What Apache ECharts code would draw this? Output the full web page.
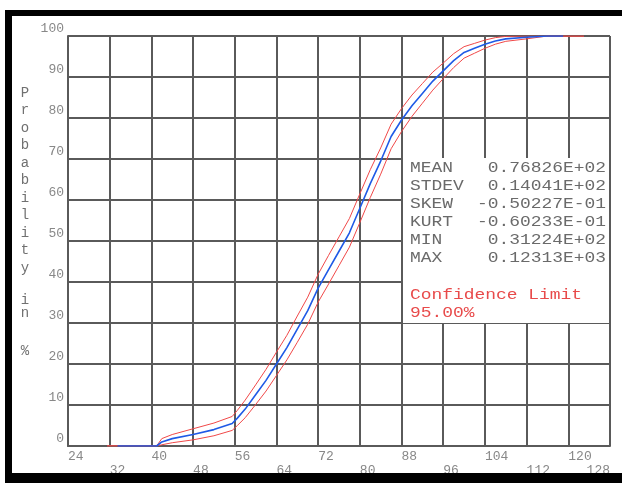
<!DOCTYPE html>
<html>
<head>
<meta charset="utf-8">
<script src="https://cdn.jsdelivr.net/npm/echarts@6/dist/echarts.min.js"></script>
<style>
  html, body { margin: 0; padding: 0; background: #fff; }
  #chart { width: 622px; height: 483px; }
</style>
</head>
<body>
<div id="chart"></div>
<script>
// sample values (x) and cumulative probability in %
const cdfX = [33.5, 41, 42, 44, 48, 52, 55.5, 56.5, 58, 60, 62, 64, 66, 68, 70, 72, 74, 76, 78, 80,
  82, 84, 86, 88, 90, 92, 94, 96, 98, 100, 102, 104, 106, 108, 112, 116, 119];
const cdfY = [0, 0, 1, 1.8, 2.8, 4, 5.5, 6.8, 9, 12.5, 16, 20, 24, 28.5, 33, 38.5, 43, 47.5, 52, 58,
  64, 69.5, 75.5, 79.5, 83, 86, 89, 91.5, 94, 96, 97, 98, 98.8, 99.3, 99.7, 100, 100];

// 95% confidence limits (red)
const limX = [31.5, 41, 42, 44, 48, 52, 55.5, 56.5, 58, 60, 62, 64, 66, 68, 70, 72, 74, 76, 78, 80,
  82, 84, 86, 88, 90, 92, 94, 96, 98, 100, 102, 104, 106, 108, 112, 116, 123];
const upperY = [0, 0, 1.8, 2.8, 4.2, 5.6, 7.2, 8.7, 11.2, 14.9, 18.7, 22.9, 27, 31.7, 36.3, 41.9, 46.5,
  51, 55.5, 61.5, 67.4, 72.7, 78.5, 82.3, 85.6, 88.4, 91.2, 93.4, 95.7, 97.4, 98.2, 99, 99.6, 99.9, 100, 100, 100];
const lowerY = [0, 0, 0.3, 0.8, 1.5, 2.5, 3.8, 5, 6.9, 10.1, 13.4, 17.2, 21, 25.3, 29.7, 35.1, 39.5,
  44, 48.5, 54.5, 60.6, 66.3, 72.5, 76.7, 80.4, 83.6, 86.8, 89.6, 92.3, 94.6, 95.8, 97, 98, 98.7, 99.3, 100, 100];

const statNames = ['MEAN', 'STDEV', 'SKEW', 'KURT', 'MIN', 'MAX'];
const statValues = ['0.76826E+02', '0.14041E+02', '-0.50227E-01', '-0.60233E-01', '0.31224E+02', '0.12313E+03'];
const yTitle = ['P', 'r', 'o', 'b', 'a', 'b', 'i', 'l', 'i', 't', 'y'];

const mono = 'Liberation Mono';
const gridColor = '#5a5a5a';
const charW = 14 * 0.6 * 1.28; // stretched mono glyph width

function pairs(xs, ys) {
  return xs.map((x, i) => [x, ys[i]]);
}

function monoText(str, x, y, color, z) {
  return { type: 'text', x: x, y: y, scaleX: 1.28, z: z,
    style: { text: str, font: '14px "' + mono + '"', fill: color, align: 'left', verticalAlign: 'middle' } };
}

// x labels sit on two staggered rows: even steps up, odd steps down
const isLowRow = v => ((v - 24) / 8) % 2 === 1;

const chart = echarts.init(document.getElementById('chart'));

const graphics = [];
// black frame
graphics.push({ type: 'rect', shape: { x: 5, y: 10, width: 7, height: 473 }, style: { fill: '#000' }, z: 10 });
graphics.push({ type: 'rect', shape: { x: 5, y: 10, width: 617, height: 6 }, style: { fill: '#000' }, z: 10 });
graphics.push({ type: 'rect', shape: { x: 5, y: 473, width: 617, height: 10 }, style: { fill: '#000' }, z: 10 });

// vertical axis title, one letter per line
function titleChar(ch, y) {
  return { type: 'text', x: 25, y: y, z: 10,
    style: { text: ch, font: '14px "' + mono + '"', fill: '#707070', align: 'center', verticalAlign: 'middle' } };
}
yTitle.forEach((ch, i) => graphics.push(titleChar(ch, 93 + i * 17.5)));
graphics.push(titleChar('i', 300));
graphics.push(titleChar('n', 313));
graphics.push(titleChar('%', 351));

// statistics box
graphics.push({ type: 'rect', shape: { x: 403, y: 158, width: 206, height: 165 }, style: { fill: '#fff' }, z: 20 });
statNames.forEach((name, i) => {
  const y = 168 + i * 18;
  graphics.push(monoText(name, 410, y, '#6a6a6a', 21));
  graphics.push(monoText(statValues[i], 606 - statValues[i].length * charW, y, '#6a6a6a', 21));
});
graphics.push(monoText('Confidence Limit', 410, 295, '#e84a4a', 21));
graphics.push(monoText('95.00%', 410, 313, '#e84a4a', 21));

const labelBase = { fontFamily: mono, fontSize: 13, color: '#888', align: 'left', verticalAlign: 'top',
  showMinLabel: true, showMaxLabel: true };

const option = {
  backgroundColor: '#fff',
  animation: false,
  grid: { left: 68, right: 12, top: 36, bottom: 37 },
  xAxis: [
    {
      type: 'value', min: 24, max: 128, interval: 8,
      axisLine: { show: true, onZero: false, lineStyle: { color: gridColor, width: 2 } },
      axisTick: { show: false },
      splitLine: { show: true, lineStyle: { color: gridColor, width: 2 } },
      axisLabel: Object.assign({}, labelBase, { margin: 4, formatter: v => (isLowRow(v) ? '' : String(v)) })
    },
    {
      type: 'value', min: 24, max: 128, interval: 8, position: 'bottom',
      axisLine: { show: false }, axisTick: { show: false }, splitLine: { show: false },
      axisLabel: Object.assign({}, labelBase, { margin: 18, alignMaxLabel: 'right',
        formatter: v => (isLowRow(v) ? String(v) : '') })
    }
  ],
  yAxis: {
    type: 'value', min: 0, max: 100, interval: 10,
    axisLine: { show: true, onZero: false, lineStyle: { color: gridColor, width: 2 } },
    axisTick: { show: false },
    splitLine: { show: true, lineStyle: { color: gridColor, width: 2 } },
    axisLabel: {
      margin: 4, verticalAlign: 'bottom', padding: [0, 0, 1, 0],
      fontFamily: mono, fontSize: 13, color: '#888'
    }
  },
  series: [
    { name: 'upper', type: 'line', data: pairs(limX, upperY), showSymbol: false,
      lineStyle: { color: '#f04848', width: 1 }, z: 3 },
    { name: 'lower', type: 'line', data: pairs(limX, lowerY), showSymbol: false,
      lineStyle: { color: '#f04848', width: 1 }, z: 3 },
    { name: 'cdf', type: 'line', data: pairs(cdfX, cdfY), showSymbol: false,
      lineStyle: { color: '#1f5ae6', width: 1.6 }, z: 4 }
  ],
  graphic: { elements: graphics }
};

chart.setOption(option);
</script>
</body>
</html>
